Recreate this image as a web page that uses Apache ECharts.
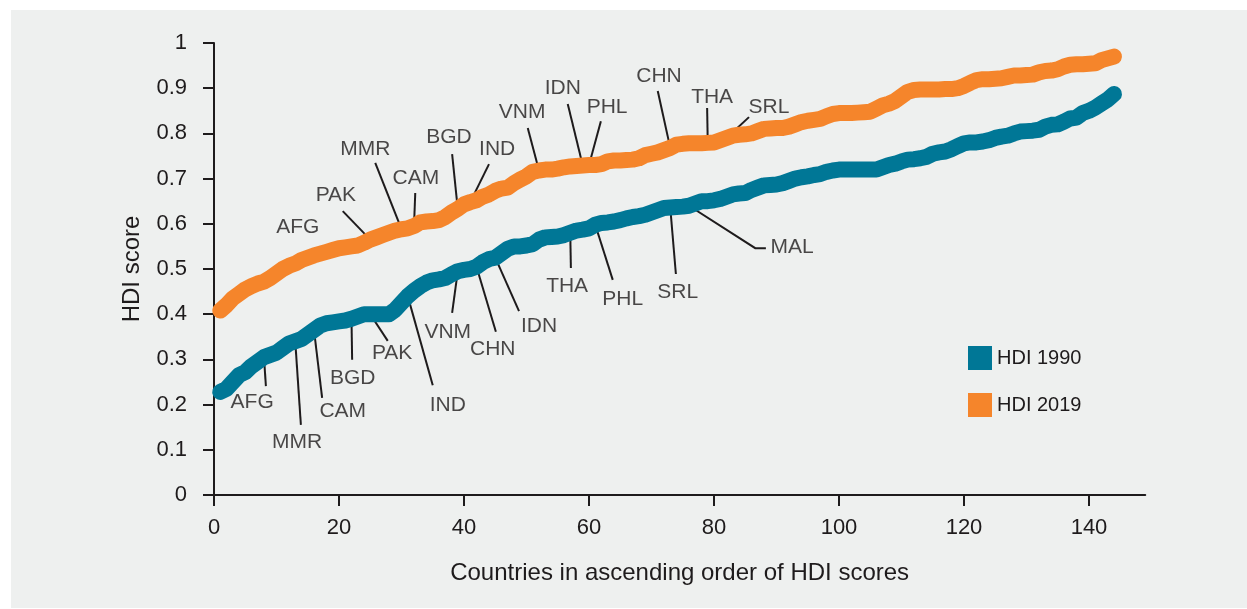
<!DOCTYPE html>
<html lang="en">
<head>
<meta charset="UTF-8">
<title>HDI 1990 vs 2019</title>
<script src="https://cdn.jsdelivr.net/npm/echarts@6/dist/echarts.min.js"></script>
<style>
  html, body { margin: 0; padding: 0; width: 100%; height: 100%; background: #fff; }
  #chart { position: absolute; left: 11px; top: 10px; width: 1236px; height: 598px; }
</style>
</head>
<body>
<div id="chart"></div>
<script>
// countries ranked 1..144 in ascending order of HDI
var hdi1990 = [
  0.228,0.235,0.25,0.265,0.272,0.285,0.295,0.305,0.31,0.315,
  0.325,0.335,0.34,0.345,0.355,0.365,0.375,0.38,0.382,0.384,
  0.386,0.39,0.395,0.4,0.4,0.4,0.4,0.4,0.41,0.425,
  0.44,0.452,0.462,0.47,0.475,0.477,0.48,0.488,0.495,0.498,
  0.5,0.505,0.515,0.522,0.525,0.535,0.545,0.55,0.55,0.552,
  0.555,0.565,0.57,0.571,0.572,0.575,0.58,0.585,0.587,0.59,
  0.598,0.602,0.603,0.605,0.608,0.612,0.615,0.617,0.62,0.625,
  0.63,0.635,0.636,0.637,0.638,0.64,0.645,0.65,0.65,0.652,
  0.655,0.66,0.665,0.667,0.668,0.675,0.68,0.685,0.686,0.687,
  0.69,0.695,0.7,0.703,0.705,0.708,0.71,0.715,0.718,0.72,
  0.72,0.72,0.72,0.72,0.72,0.72,0.725,0.73,0.733,0.738,
  0.742,0.743,0.745,0.748,0.755,0.758,0.76,0.765,0.772,0.778,
  0.78,0.78,0.782,0.785,0.79,0.793,0.795,0.8,0.804,0.805,
  0.806,0.808,0.815,0.819,0.82,0.826,0.833,0.835,0.845,0.85,
  0.857,0.866,0.875,0.887
];
var hdi2019 = [
  0.408,0.42,0.435,0.445,0.455,0.462,0.468,0.472,0.48,0.49,
  0.5,0.507,0.512,0.52,0.525,0.53,0.534,0.538,0.542,0.546,
  0.548,0.55,0.552,0.558,0.565,0.57,0.575,0.58,0.585,0.588,
  0.59,0.595,0.603,0.605,0.606,0.608,0.615,0.625,0.633,0.643,
  0.648,0.652,0.66,0.665,0.673,0.678,0.68,0.69,0.698,0.705,
  0.715,0.718,0.72,0.72,0.722,0.725,0.727,0.728,0.729,0.73,
  0.73,0.732,0.738,0.74,0.74,0.741,0.742,0.745,0.752,0.755,
  0.758,0.763,0.768,0.775,0.777,0.778,0.778,0.778,0.779,0.78,
  0.785,0.79,0.795,0.797,0.798,0.8,0.805,0.81,0.811,0.812,
  0.812,0.815,0.82,0.825,0.828,0.83,0.832,0.838,0.843,0.845,
  0.845,0.845,0.846,0.847,0.848,0.855,0.862,0.866,0.872,0.882,
  0.892,0.896,0.897,0.897,0.897,0.897,0.898,0.898,0.9,0.905,
  0.912,0.918,0.92,0.92,0.921,0.922,0.925,0.928,0.928,0.929,
  0.93,0.935,0.938,0.939,0.942,0.948,0.952,0.953,0.953,0.954,
  0.955,0.962,0.966,0.97
];
var xTicks = [0, 20, 40, 60, 80, 100, 120, 140];
var seriesNames = ['HDI 1990', 'HDI 2019'];

// country callouts: [code, rank on the curve, leader bends [x, y], label x, label y]
var notes1990 = [
  ['AFG', 8, [[8.3, 0.241]], 6.1, 0.206],
  ['MMR', 13, [[13.9, 0.155]], 13.3, 0.117],
  ['CAM', 16, [[17.3, 0.215]], 20.6, 0.186],
  ['BGD', 22, [[22.1, 0.299]], 22.2, 0.259],
  ['PAK', 25, [[27.8, 0.341]], 28.5, 0.314],
  ['IND', 31, [[35.0, 0.243]], 37.4, 0.199],
  ['VNM', 39, [[38.1, 0.403]], 37.4, 0.361],
  ['CHN', 42, [[45.1, 0.361]], 44.6, 0.323],
  ['IDN', 45, [[48.8, 0.407]], 52.0, 0.374],
  ['THA', 57, [[57.1, 0.502]], 56.5, 0.462],
  ['PHL', 61, [[63.8, 0.476]], 65.4, 0.434],
  ['SRL', 73, [[73.9, 0.489]], 74.2, 0.449],
  ['MAL', 76, [[86.6, 0.546], [88.3, 0.546]], 92.5, 0.548]
];
var notes2019 = [
  ['AFG', null, [], 13.4, 0.593],
  ['PAK', 25, [[20.6, 0.628]], 19.5, 0.664],
  ['MMR', 30, [[25.8, 0.735]], 24.2, 0.765],
  ['CAM', 32, [[32.2, 0.668]], 32.3, 0.701],
  ['BGD', 39, [[38.1, 0.754]], 37.6, 0.792],
  ['IND', 41, [[44.0, 0.732]], 45.3, 0.765],
  ['VNM', 52, [[50.2, 0.812]], 49.3, 0.847],
  ['IDN', 59, [[56.6, 0.865]], 55.8, 0.900],
  ['PHL', 60, [[61.9, 0.827]], 62.9, 0.858],
  ['CHN', 73, [[71.0, 0.894]], 71.2, 0.927],
  ['THA', 79, [[78.9, 0.856]], 79.7, 0.881],
  ['SRL', 82, [[85.6, 0.836]], 88.8, 0.858]
];

var textColor = '#1e1b1c';
var font = 'Liberation Sans, Arial, sans-serif';

function toPoints(arr) {
  return arr.map(function (v, i) { return [i + 1, v]; });
}

var leaders = [], labels = [];
function addNotes(notes, values) {
  notes.forEach(function (n) {
    if (n[1] != null) {
      leaders.push({ coords: [[n[1], values[n[1] - 1]]].concat(n[2]) });
    }
    labels.push({ name: n[0], value: [n[3], n[4]] });
  });
}
addNotes(notes1990, hdi1990);
addNotes(notes2019, hdi2019);

var myChart = echarts.init(document.getElementById('chart'));
myChart.setOption({
  backgroundColor: '#eef0ef',
  animation: false,
  textStyle: { fontFamily: font, color: textColor },
  grid: { left: 203, right: 101.75, top: 33, bottom: 113 },
  legend: {
    orient: 'vertical',
    left: 952, top: 331,
    itemWidth: 24, itemHeight: 24, itemGap: 23,
    icon: 'rect',
    data: seriesNames,
    textStyle: { fontSize: 20, color: textColor, fontFamily: font }
  },
  xAxis: {
    type: 'value', min: 0, max: 149,
    name: 'Countries in ascending order of HDI scores',
    nameLocation: 'middle', nameGap: 66,
    nameTextStyle: { fontSize: 24, color: textColor },
    axisLine: { show: true, lineStyle: { color: textColor, width: 2 } },
    axisTick: { show: true, length: 11, lineStyle: { color: textColor, width: 2 }, customValues: xTicks },
    axisLabel: { fontSize: 22, color: textColor, margin: 22, customValues: xTicks },
    splitLine: { show: false }
  },
  yAxis: {
    type: 'value', min: 0, max: 1, interval: 0.1,
    name: 'HDI score',
    nameLocation: 'middle', nameGap: 70,
    nameTextStyle: { fontSize: 24, color: textColor },
    axisLine: { show: true, lineStyle: { color: textColor, width: 2 } },
    axisTick: { show: true, length: 11, lineStyle: { color: textColor, width: 2 } },
    axisLabel: { fontSize: 22, color: textColor, margin: 27 },
    splitLine: { show: false }
  },
  series: [
    {
      type: 'lines', coordinateSystem: 'cartesian2d', polyline: true, z: 1,
      silent: true,
      lineStyle: { color: textColor, width: 2, opacity: 1 },
      data: leaders
    },
    {
      name: seriesNames[0], type: 'line', z: 3,
      showSymbol: false, color: '#007796',
      lineStyle: { width: 16, cap: 'round', join: 'round' },
      data: toPoints(hdi1990)
    },
    {
      name: seriesNames[1], type: 'line', z: 3,
      showSymbol: false, color: '#f5852b',
      lineStyle: { width: 16, cap: 'round', join: 'round' },
      data: toPoints(hdi2019)
    },
    {
      type: 'scatter', z: 4, symbolSize: 0, silent: true,
      label: {
        show: true, position: 'inside', formatter: '{b}',
        fontSize: 21, color: textColor, fontFamily: font
      },
      data: labels
    }
  ]
});
</script>
</body>
</html>
